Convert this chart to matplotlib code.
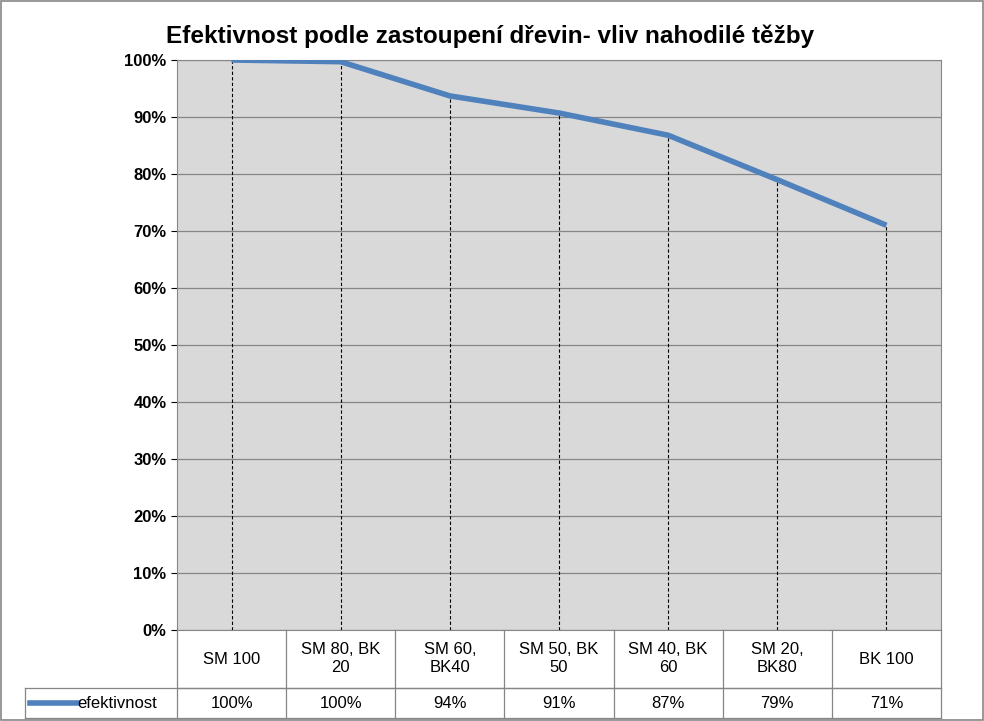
import matplotlib.pyplot as plt
from matplotlib.lines import Line2D
from matplotlib.patches import Rectangle

categories = ["SM 100", "SM 80, BK\n20", "SM 60,\nBK40", "SM 50, BK\n50", "SM 40, BK\n60", "SM 20,\nBK80", "BK 100"]
efektivnost = [1.00, 0.997, 0.937, 0.907, 0.868, 0.79, 0.71]
series_name = "efektivnost"
yticks = [0, 0.1, 0.2, 0.3, 0.4, 0.5, 0.6, 0.7, 0.8, 0.9, 1.0]

plt.rcParams["font.family"] = "Liberation Sans"
BLUE = "#4F81BD"
W, H = 984, 721

fig = plt.figure(figsize=(9.84, 7.21), dpi=100)
fig.patch.set_facecolor("white")
fig.add_artist(Rectangle((0.001, 0.001), 0.998, 0.997, transform=fig.transFigure,
                         fill=False, edgecolor="#868686", linewidth=1.2))

ax = fig.add_axes([177 / W, (H - 630) / H, 764 / W, 570 / H])
ax.set_facecolor("#D9D9D9")
n = len(categories)
x = [i + 0.5 for i in range(n)]
ax.set_xlim(0, n)
ax.set_ylim(0, 1)
for t in yticks:
    ax.axhline(t, color="#868686", linewidth=0.9, zorder=1)
for xi, v in zip(x, efektivnost):
    ax.plot([xi, xi], [0, v], color="black", linestyle=(0, (3, 2)), linewidth=0.8, zorder=2)
ax.plot(x, efektivnost, color=BLUE, linewidth=4, zorder=3, solid_capstyle="butt")
ax.set_yticks(yticks)
ax.set_yticklabels([f"{int(round(t * 100))}%" for t in yticks], fontsize=12, fontweight="bold")
ax.set_xticks([])
ax.tick_params(axis="y", length=4)
for s in ax.spines.values():
    s.set_color("#868686")

# data table below the plot
def ay(py):
    return (630 - py) / 570

def axx(px):
    return (px - 177) / 764

kw = dict(transform=ax.transAxes, clip_on=False, color="#868686", linewidth=0.9)
ax.add_line(Line2D([0, 1], [ay(688), ay(688)], **kw))
ax.add_line(Line2D([axx(25), 1], [ay(688), ay(688)], **kw))
ax.add_line(Line2D([axx(25), 1], [ay(718), ay(718)], **kw))
ax.add_line(Line2D([axx(25), axx(25)], [ay(688), ay(718)], **kw))
for i in range(n + 1):
    ax.add_line(Line2D([i / n, i / n], [0, ay(718)], **kw))
for i, (c, v) in enumerate(zip(categories, efektivnost)):
    ax.text((i + 0.5) / n, ay(659), c, transform=ax.transAxes, ha="center", va="center",
            fontsize=12, linespacing=1.25)
    ax.text((i + 0.5) / n, ay(703), f"{v:.0%}", transform=ax.transAxes, ha="center",
            va="center", fontsize=12)
ax.add_line(Line2D([axx(30), axx(77)], [ay(703), ay(703)], transform=ax.transAxes,
                   clip_on=False, color=BLUE, linewidth=4))
ax.text(axx(77), ay(703), series_name, transform=ax.transAxes, ha="left", va="center",
        fontsize=12)

fig.text(490 / W, 1 - 36 / H, "Efektivnost podle zastoupení dřevin- vliv nahodilé těžby",
         ha="center", va="center", fontsize=17.5, fontweight="bold")

fig.savefig("out.png", dpi=100)
